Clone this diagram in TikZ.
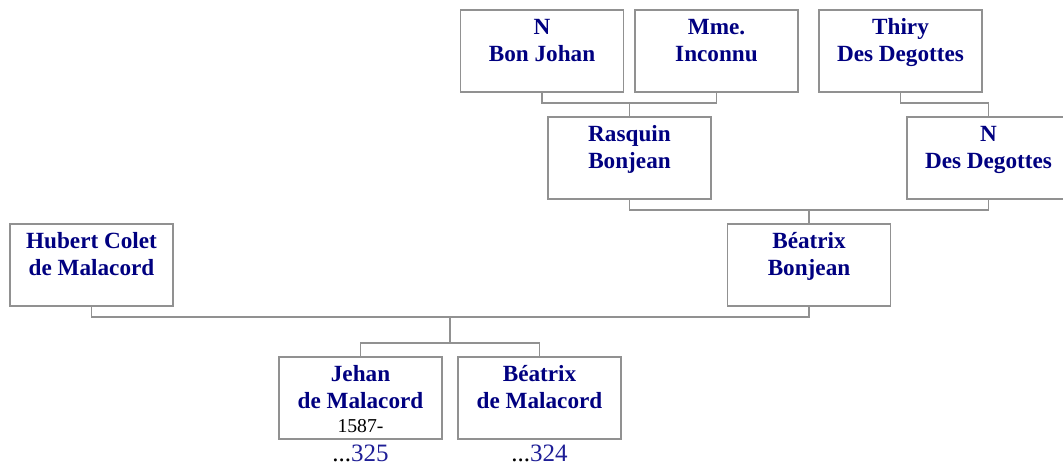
\documentclass[tikz,border=0pt]{standalone}
\usepackage{fontspec}
\setmainfont{Liberation Serif}
\definecolor{famNavy}{RGB}{0,0,128}
\definecolor{famLink}{RGB}{30,30,150}
\definecolor{famGray}{RGB}{145,145,145}
\usetikzlibrary{positioning}
\newcommand{\famname}[2][]{\parbox[c][41pt][t]{81.5pt}{\centering\color{famNavy}\bfseries\rule{0pt}{12pt}#2\par
  \normalfont\color{black}\fontsize{9.85}{12}\selectfont #1\par}}

\begin{document}
\begin{tikzpicture}[
  x=0.5pt, y=-0.5pt,
  person/.style={draw=famGray, line width=0.8pt, inner sep=0pt,
                 font=\fontsize{11.6}{13.6}\selectfont},
  link/.style={famGray, line width=0.8pt},
  numref/.style={inner sep=0pt, font=\fontsize{12.5}{15}\selectfont}
]
  \useasboundingbox (0,0) rectangle (1063,468);

  % grandparents
  \node[person] (bonjohan) at (542,51)    {\famname{N\\Bon Johan}};
  \node[person] (inconnu)  at (716.5,51)  {\famname{Mme.\\Inconnu}};
  \node[person] (thiry)    at (900.5,51)  {\famname{Thiry\\Des Degottes}};
  % parents
  \node[person] (rasquin)  at (629.5,158) {\famname{Rasquin\\Bonjean}};
  \node[person] (ndeg)     at (988.5,158) {\famname{N\\Des Degottes}};
  \node[person] (beatrixb) at (809,265)   {\famname{Béatrix\\Bonjean}};
  \node[person] (hubert)   at (91.5,265)  {\famname{Hubert Colet\\de Malacord}};
  % children
  \node[person] (jehan)    at (360.5,398) {\famname[1587-]{Jehan\\de Malacord}};
  \node[person] (beatrixm) at (539.5,398) {\famname{Béatrix\\de Malacord}};

  \node[numref, below=2.5pt of jehan]    (n325) {...\textcolor{famLink}{325}};
  \node[numref, below=2.5pt of beatrixm] (n324) {...\textcolor{famLink}{324}};

  \coordinate (m1) at (629.5,103);
  \coordinate (t1) at (988.5,103);
  \coordinate (m2) at (809,210);
  \coordinate (m3) at (450,317);
  \coordinate (m4) at (450,343);

  \draw[link] (bonjohan) |- (m1) -| (inconnu);
  \draw[link] (m1) -- (rasquin);
  \draw[link] (thiry) |- (t1) -- (ndeg);
  \draw[link] (rasquin) |- (m2) -| (ndeg);
  \draw[link] (m2) -- (beatrixb);
  \draw[link] (hubert) |- (m3) -| (beatrixb);
  \draw[link] (m3) -- (m4);
  \draw[link] (jehan) |- (m4) -| (beatrixm);
\end{tikzpicture}
\end{document}
